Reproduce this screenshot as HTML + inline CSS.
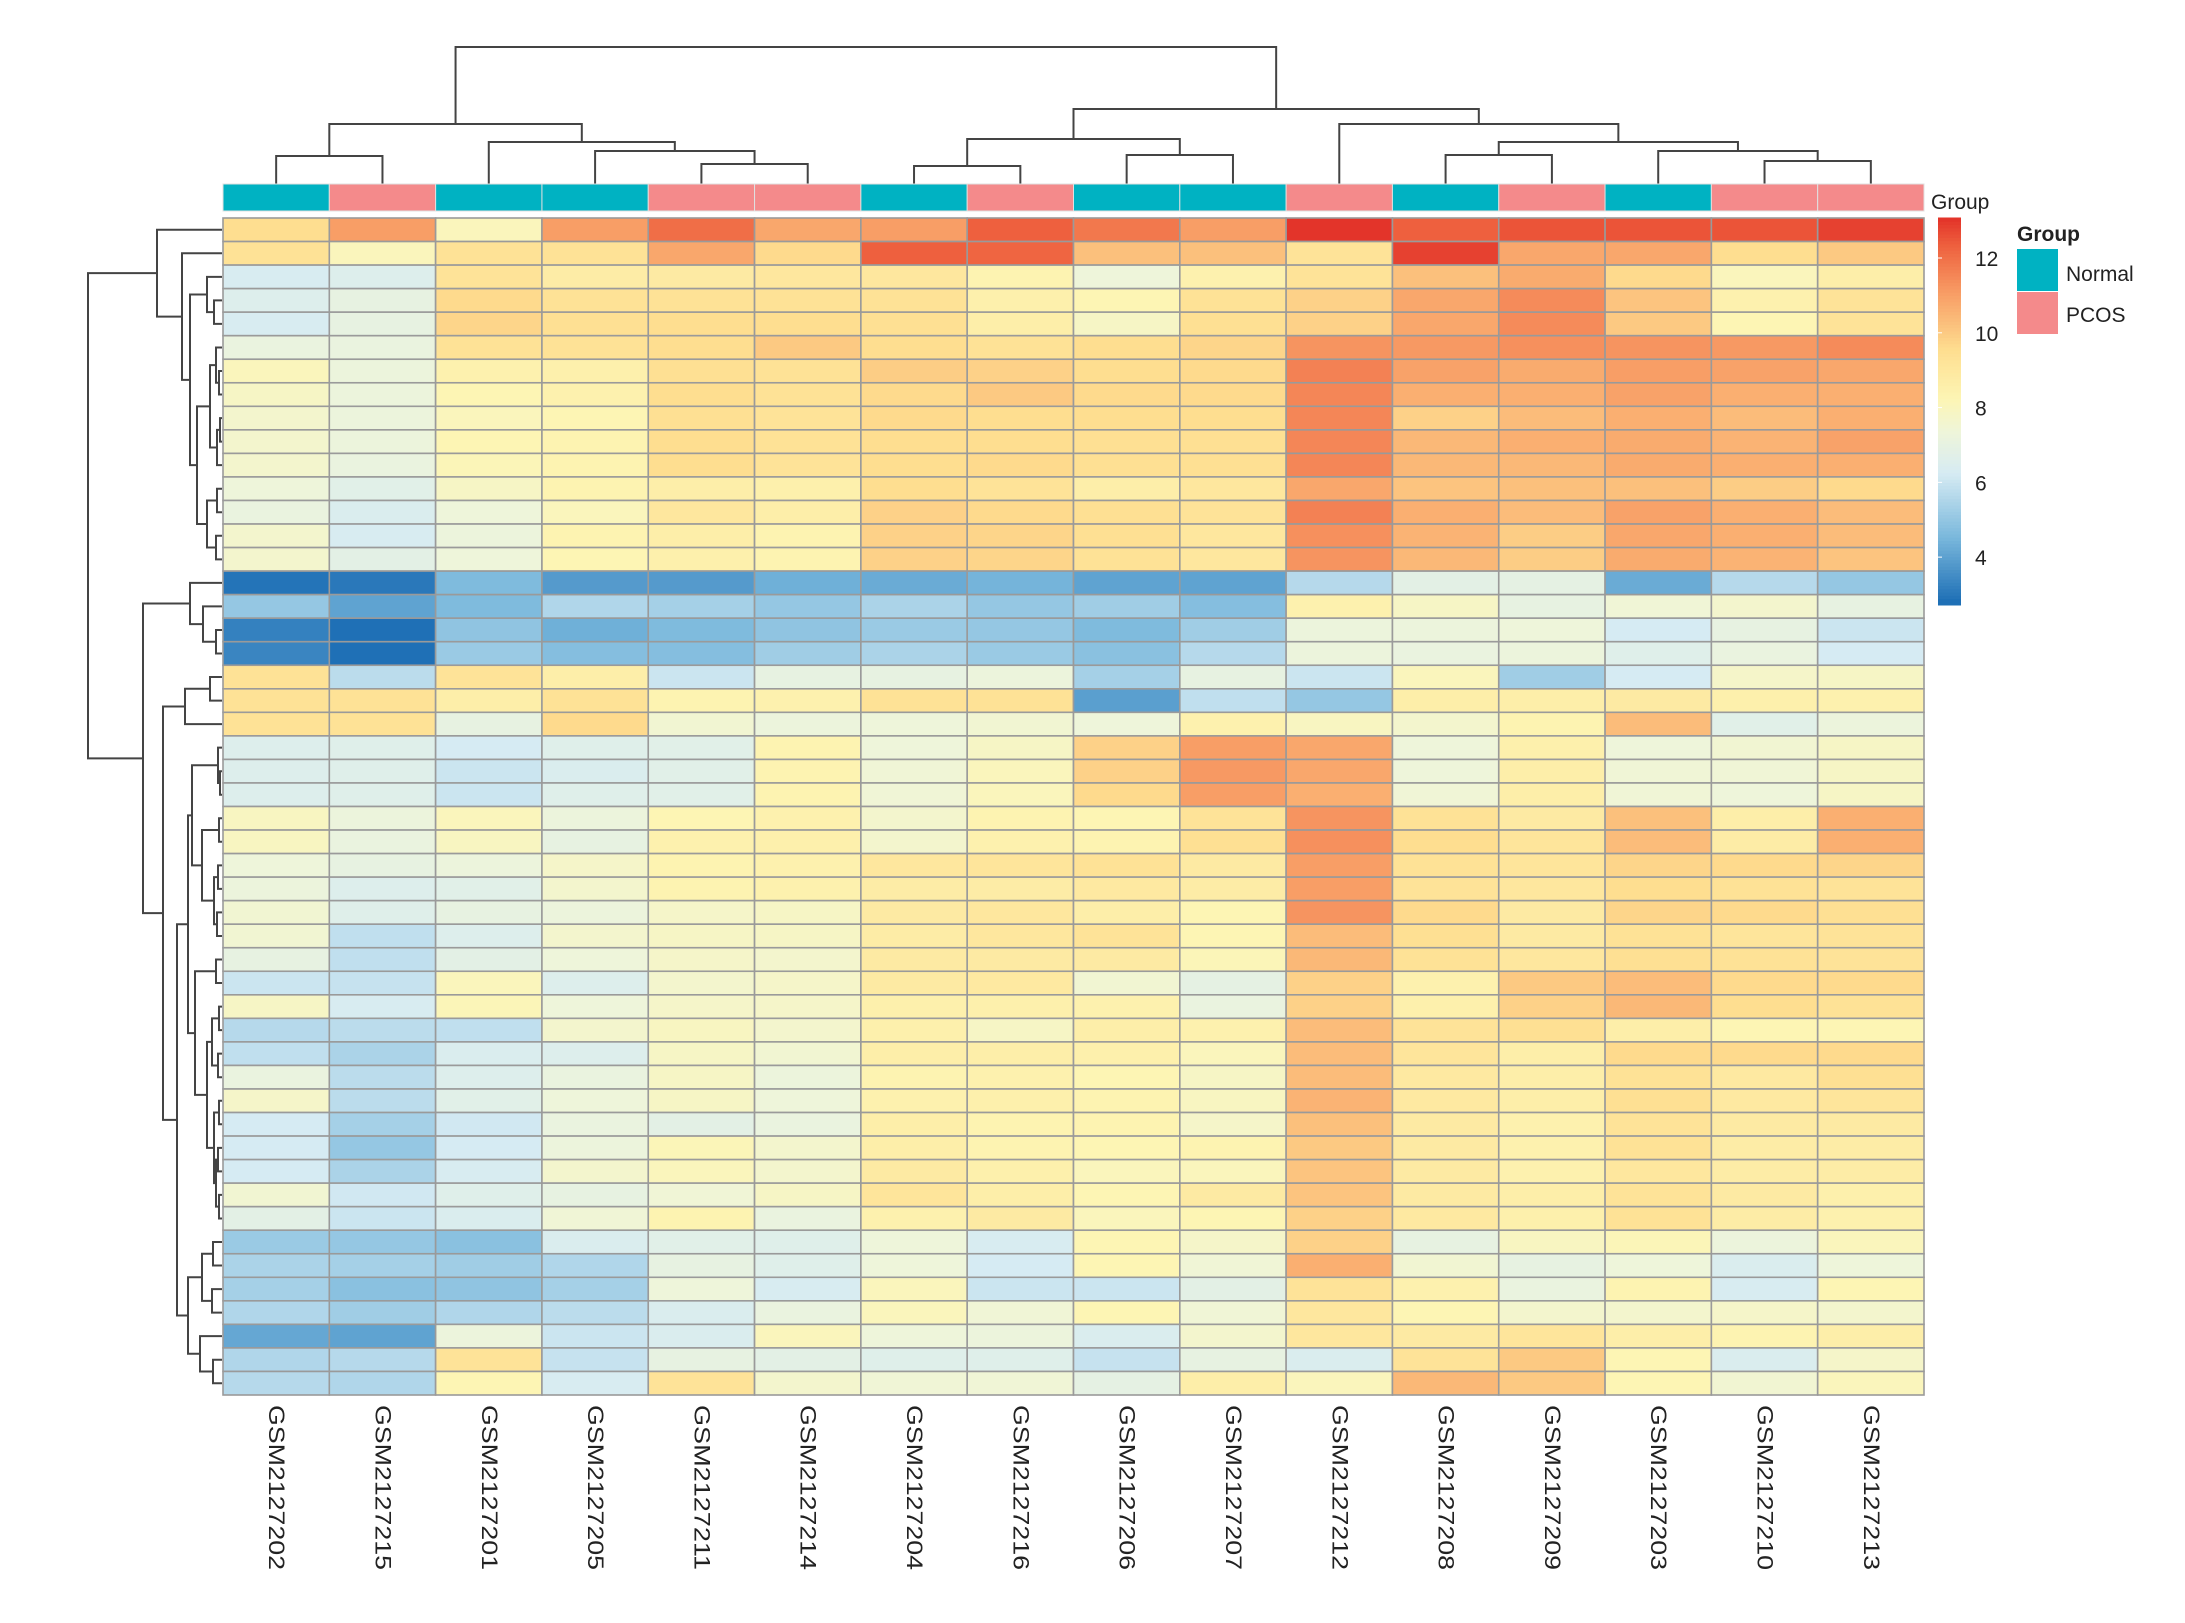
<!DOCTYPE html>
<html><head><meta charset="utf-8"><title>Heatmap</title>
<style>
html,body{margin:0;padding:0;background:#fff;width:2185px;height:1623px;overflow:hidden;font-family:"Liberation Sans",sans-serif;}
svg{display:block}
</style></head>
<body>
<svg id="chart" width="2185" height="1623" viewBox="0 0 2185 1623" xmlns="http://www.w3.org/2000/svg">
<rect x="0" y="0" width="2185" height="1623" fill="#fff"/>
<g id="rowDendro"></g>
<g id="colDendro"></g>
<g id="annot"></g>
<g id="cells"></g>
<g id="collabels"></g>
<text x="1931" y="209" font-size="21" fill="#222">Group</text>
<g id="colorbar"></g>
<g>
<text x="2017" y="241" font-size="21" font-weight="bold" fill="#222">Group</text>
<rect x="2017" y="249" width="41" height="42" fill="#00b2c2"/>
<rect x="2017" y="292" width="41" height="42" fill="#f48a8b"/>
<text x="2066" y="281" font-size="21" fill="#222">Normal</text>
<text x="2066" y="322" font-size="21" fill="#222">PCOS</text>
</g>
</svg>
<script>
const samples=["GSM2127202","GSM2127215","GSM2127201","GSM2127205","GSM2127211","GSM2127214","GSM2127204","GSM2127216","GSM2127206","GSM2127207","GSM2127212","GSM2127208","GSM2127209","GSM2127203","GSM2127210","GSM2127213"];
const groups=["Normal","PCOS","Normal","Normal","PCOS","PCOS","Normal","PCOS","Normal","Normal","PCOS","Normal","PCOS","Normal","PCOS","PCOS"];
const legendTicks=[4,6,8,10,12];
const values=[
[9.5,11,8,11,12,10.8,11,12.3,11.8,11,13,12.3,12.5,12.5,12.5,12.8],
[9.3,8,9.3,9.3,10.8,9.6,12.3,12.2,10.2,10.2,9.2,12.8,10.8,10.8,9.5,10],
[6.3,6.5,9.2,8.7,8.8,9.0,9.0,8.3,7.3,8.4,9.2,10.2,10.7,9.6,8.0,8.6],
[6.5,7,9.6,9.3,9.3,9.3,9.3,8.5,8.2,9.3,9.8,10.8,11.4,10.1,8.4,9.2],
[6.3,7.0,9.7,9.4,9.5,9.5,9.4,8.6,7.8,9.4,9.8,10.8,11.4,10.0,8.2,9.2],
[7.1,7.1,9.3,9.3,9.5,10.0,9.5,9.3,9.5,9.7,11.2,11.1,11.3,11.2,11.1,11.4],
[8.0,7.2,8.4,8.5,9.4,9.3,9.9,9.8,9.5,9.6,11.6,10.9,10.7,11.0,10.9,10.8],
[7.8,7.2,8.2,8.4,9.5,9.3,9.6,10.0,9.6,9.6,11.5,10.6,10.6,10.9,10.6,10.6],
[7.6,7.2,8.0,8.2,9.4,9.2,9.6,9.5,9.5,9.5,11.5,9.8,10.3,10.6,10.3,10.6],
[7.6,7.2,8.2,8.3,9.5,9.3,9.5,9.5,9.4,9.4,11.5,10.4,10.6,10.7,10.5,10.9],
[7.6,7.1,8.1,8.3,9.5,9.2,9.5,9.6,9.4,9.4,11.5,10.4,10.4,10.7,10.6,10.6],
[7.3,6.7,7.8,8.3,8.6,8.5,9.5,9.2,8.6,9.0,10.8,10.1,10.2,10.2,9.9,9.6],
[7.1,6.4,7.3,8.0,9.0,8.6,9.8,9.6,9.4,9.2,11.6,10.6,10.3,10.9,10.6,10.3],
[7.6,6.3,7.2,8.3,8.6,8.3,9.8,9.7,9.4,9.0,11.3,10.5,9.9,10.8,10.6,10.3],
[7.6,6.8,7.3,8.2,8.5,8.3,9.8,9.7,9.3,9.0,11.2,10.4,9.9,10.7,10.5,10.1],
[2.9,3.0,4.6,3.8,3.8,4.3,4.2,4.4,4.0,4.0,5.6,6.8,6.9,4.2,5.6,5.0],
[5.0,4.0,4.6,5.5,5.3,5.0,5.4,5.0,5.2,4.7,8.4,7.8,7.0,7.4,7.6,7.0],
[3.2,2.8,4.9,4.3,4.6,4.9,5.1,5.0,4.6,5.2,7.2,7.2,7.3,6.2,7.0,6.0],
[3.3,2.8,5.1,4.7,4.7,5.2,5.4,5.1,4.8,5.6,7.2,7.1,7.2,6.6,7.1,6.2],
[9.3,5.7,9.2,8.6,6.0,7.0,7.0,7.2,5.3,7.0,6.0,8.0,5.2,6.2,7.7,7.8],
[9.3,9.3,8.6,9.3,8.3,8.4,9.3,9.3,3.9,5.8,5.0,8.6,8.6,8.8,8.5,8.4],
[9.3,9.3,7.0,9.6,7.5,7.2,7.3,7.5,7.3,8.4,7.9,7.6,8.3,10.3,6.7,7.2],
[6.5,6.6,6.2,6.6,6.7,8.3,7.3,7.8,9.8,11.0,10.8,7.3,8.5,7.3,7.5,7.8],
[6.5,6.6,6.0,6.4,6.7,8.3,7.4,8.0,9.8,11.1,10.8,7.3,8.6,7.4,7.4,7.8],
[6.5,6.6,6.0,6.6,6.7,8.3,7.4,8.0,9.6,11.0,10.6,7.4,8.6,7.4,7.3,7.8],
[7.9,7.2,8.0,7.2,8.2,8.4,7.6,8.3,8.2,9.2,11.2,9.3,8.8,10.2,8.6,10.6],
[7.9,7.1,7.9,7.0,8.4,8.5,7.6,8.4,8.3,9.4,11.3,9.5,9.1,10.3,8.7,10.6],
[7.3,7.0,7.2,7.7,8.3,8.4,9.0,9.1,9.3,8.8,11.0,9.3,9.1,9.7,9.6,9.7],
[7.2,6.5,6.7,7.6,8.3,8.4,8.7,8.7,8.9,8.7,11.0,9.2,9.0,9.5,9.3,9.2],
[7.5,6.6,7.0,7.2,7.7,7.8,8.8,9.0,8.6,8.2,11.2,9.6,8.8,9.7,9.6,9.4],
[7.5,5.8,6.5,7.6,7.8,7.8,8.7,9.0,9.2,8.2,10.3,9.4,8.8,9.3,9.1,9.2],
[7.0,5.8,6.8,7.3,7.7,7.6,8.8,8.8,8.8,8.1,10.4,9.3,9.0,9.4,9.3,9.2],
[6.0,5.9,8.0,6.5,7.6,7.7,8.8,8.9,7.5,6.9,9.8,8.4,10.0,10.3,9.6,9.6],
[7.8,6.3,8.1,7.3,7.7,7.7,8.5,8.5,8.4,7.1,9.8,8.5,9.8,10.4,9.5,9.3],
[5.6,5.7,5.8,7.6,7.9,7.6,8.5,7.8,8.6,8.4,10.3,9.2,9.4,8.6,8.2,8.2],
[5.8,5.4,6.4,6.5,7.8,7.5,8.6,8.6,8.5,8.0,10.3,9.1,8.6,9.6,9.6,9.6],
[7.1,5.7,6.5,7.1,7.8,7.2,8.3,8.4,8.2,7.8,10.3,8.9,8.6,9.3,8.9,9.4],
[7.7,5.7,6.7,7.3,7.8,7.3,8.4,8.5,8.3,7.9,10.5,8.9,8.6,9.4,8.9,9.1],
[6.2,5.3,6.1,7.1,6.8,7.1,8.6,8.3,8.3,7.7,10.2,8.8,8.4,9.2,8.8,8.8],
[6.2,5.0,6.2,7.2,8.1,7.6,8.6,8.3,8.2,8.3,10.0,8.8,8.4,9.3,8.7,8.7],
[6.2,5.4,6.3,7.6,8.0,7.6,8.8,8.5,8.0,8.0,10.1,8.8,8.4,9.0,8.7,8.7],
[7.5,6.1,6.6,7.0,7.4,7.8,9.1,8.6,8.2,8.8,10.1,8.8,8.6,9.2,8.8,8.5],
[6.8,6.0,6.4,7.4,8.3,7.1,8.4,8.8,8.0,8.2,9.8,8.9,8.5,9.3,8.7,8.4],
[5.1,5.0,4.8,6.4,6.7,6.6,7.3,6.3,8.2,7.7,9.8,7.0,7.9,8.1,7.2,8.0],
[5.4,5.3,5.2,5.5,7.0,6.6,7.3,6.2,8.2,7.4,10.6,7.5,7.0,7.3,6.4,7.3],
[5.3,4.8,4.9,5.3,7.3,6.3,8.0,6.0,6.0,6.8,9.2,8.4,7.1,8.3,6.3,8.2],
[5.5,5.2,5.5,5.7,6.4,7.1,8.0,7.4,8.2,7.4,9.0,8.2,7.6,7.6,7.7,7.6],
[4.1,4.0,7.2,6.0,6.4,8.0,7.3,7.2,6.4,7.6,9.0,8.8,9.1,8.6,8.3,8.6],
[5.5,5.6,9.2,5.9,7.0,6.8,6.6,6.6,5.9,7.0,6.4,9.2,10.0,8.2,6.4,7.7],
[5.6,5.5,8.2,6.3,9.2,7.6,7.4,7.4,6.9,8.6,8.0,10.4,10.0,8.2,7.5,8.0]
];
const colTree=[47,[124,[156,0,1],[142,2,[151,3,[164,4,5]]]],[109,[139,[166,6,7],[155,8,9]],[124,10,[142,[155,11,12],[151,13,[161,14,15]]]]]];
const rowTree=[134,
 [65,1,[40,2,[32,[15,3,[8,4,5]],[25,[12,[6,6,[3,7,8]],[5,[2,9,10],11]],[15,[5,12,13],[6,14,15]]]]]],
 [79,[32,16,[19,17,[6,18,19]]],
  [59,[37,[12,20,21],22],
   [45,
    [34,[30,[4,23,[2,24,25]],[20,[3,26,27],[8,[4,28,29],[5,30,31]]]],[27,[6,32,33],[15,[10,[3,34,35],[4,36,37]],[8,[3,38,39],[6,[4,40,41],[3,42,43]]]]]],
    [34,[20,[9,44,45],[10,46,47]],[22,48,[9,49,50]]]]]]];

const NS="http://www.w3.org/2000/svg";
const X0=223,X1=1924,Y0=218,Y1=1395;
const nC=samples.length,nR=values.length;
const cw=(X1-X0)/nC,rh=(Y1-Y0)/nR;
const xCol=i=>X0+i*cw;
const yRow=r=>Y0+r*rh;
const VMIN=2.72,VMAX=13.07;
const stops=[[2.8,[31,112,182]],[4.5,[122,184,220]],[6.2,[214,235,243]],[7.3,[238,245,218]],[8.2,[253,245,180]],[9.5,[254,222,144]],[11,[248,158,102]],[12.3,[238,96,62]],[13.07,[226,48,40]]];
function color(v){
  if(v<=stops[0][0])return "rgb("+stops[0][1].join(",")+")";
  for(let i=1;i<stops.length;i++){
    if(v<=stops[i][0]){const a=stops[i-1],b=stops[i];const t=(v-a[0])/(b[0]-a[0]);
      const c=a[1].map((x,k)=>Math.round(x+(b[1][k]-x)*t));return "rgb("+c.join(",")+")";}
  }
  return "rgb("+stops[stops.length-1][1].join(",")+")";
}
function mk(tag,attrs,parent){const e=document.createElementNS(NS,tag);for(const k in attrs)e.setAttribute(k,attrs[k]);parent.appendChild(e);return e;}

const cells=document.getElementById('cells');
for(let r=0;r<nR;r++){for(let c=0;c<nC;c++){
  const e=mk('rect',{x:xCol(c),y:yRow(r),width:cw,height:rh,fill:color(values[r][c]),stroke:'#9a9a9a','stroke-width':1.6},cells);
  
  
}}
const annot=document.getElementById('annot');
for(let c=0;c<nC;c++){
  const e=mk('rect',{x:xCol(c),y:184,width:cw,height:27,fill:groups[c]==='Normal'?'#00b2c2':'#f48a8b',stroke:'#e0e0e0','stroke-width':1},annot);
  
  
}
const cl=document.getElementById('collabels');
for(let c=0;c<nC;c++){
  const cx=xCol(c)+cw/2-7;
  const t=mk('text',{x:0,y:0,transform:'translate('+cx+',1405) rotate(90)','font-size':22,fill:'#222',textLength:165,lengthAdjust:'spacingAndGlyphs'},cl);
  t.textContent=samples[c];
  
  
}
const cd=document.getElementById('colDendro');
function drawCol(n){
  if(typeof n==='number')return {x:xCol(n)+cw/2,y:184};
  const a=drawCol(n[1]),b=drawCol(n[2]),h=n[0];
  const p=mk('path',{d:'M'+a.x+','+a.y+'V'+h+'H'+b.x+'V'+b.y,fill:'none',stroke:'#444','stroke-width':2},cd);
  
  
  return {x:(a.x+b.x)/2,y:h};
}
drawCol(colTree);
const rd=document.getElementById('rowDendro');
const LX=222;
function drawRow(n){
  if(typeof n==='number')return {x:LX,y:yRow(n-1)+rh/2};
  const a=drawRow(n[1]),b=drawRow(n[2]),x=LX-n[0];
  const p=mk('path',{d:'M'+a.x+','+a.y+'H'+x+'V'+b.y+'H'+b.x,fill:'none',stroke:'#444','stroke-width':2},rd);
  
  
  return {x:x,y:(a.y+b.y)/2};
}
drawRow(rowTree);
const cb=document.getElementById('colorbar');
const CB0=218,CB1=605,CBX=1938,CBW=23;
const vy=v=>CB1-(v-VMIN)/(VMAX-VMIN)*(CB1-CB0);
for(let i=0;i<120;i++){
  const v=VMIN+(VMAX-VMIN)*i/120;
  const e=mk('rect',{x:CBX,y:vy(v+(VMAX-VMIN)/120)-0.5,width:CBW,height:(CB1-CB0)/120+1,fill:color(v)},cb);
  
  
}
legendTicks.forEach(t=>{
  const l=mk('line',{x1:CBX,x2:CBX+4,y1:vy(t),y2:vy(t),stroke:'#fff','stroke-width':1},cb);
  
  
  const tx=mk('text',{x:1975,y:vy(t)+8,'font-size':21,fill:'#222'},cb);
  tx.textContent=String(t);
  
  
});
</script>
</body></html>
